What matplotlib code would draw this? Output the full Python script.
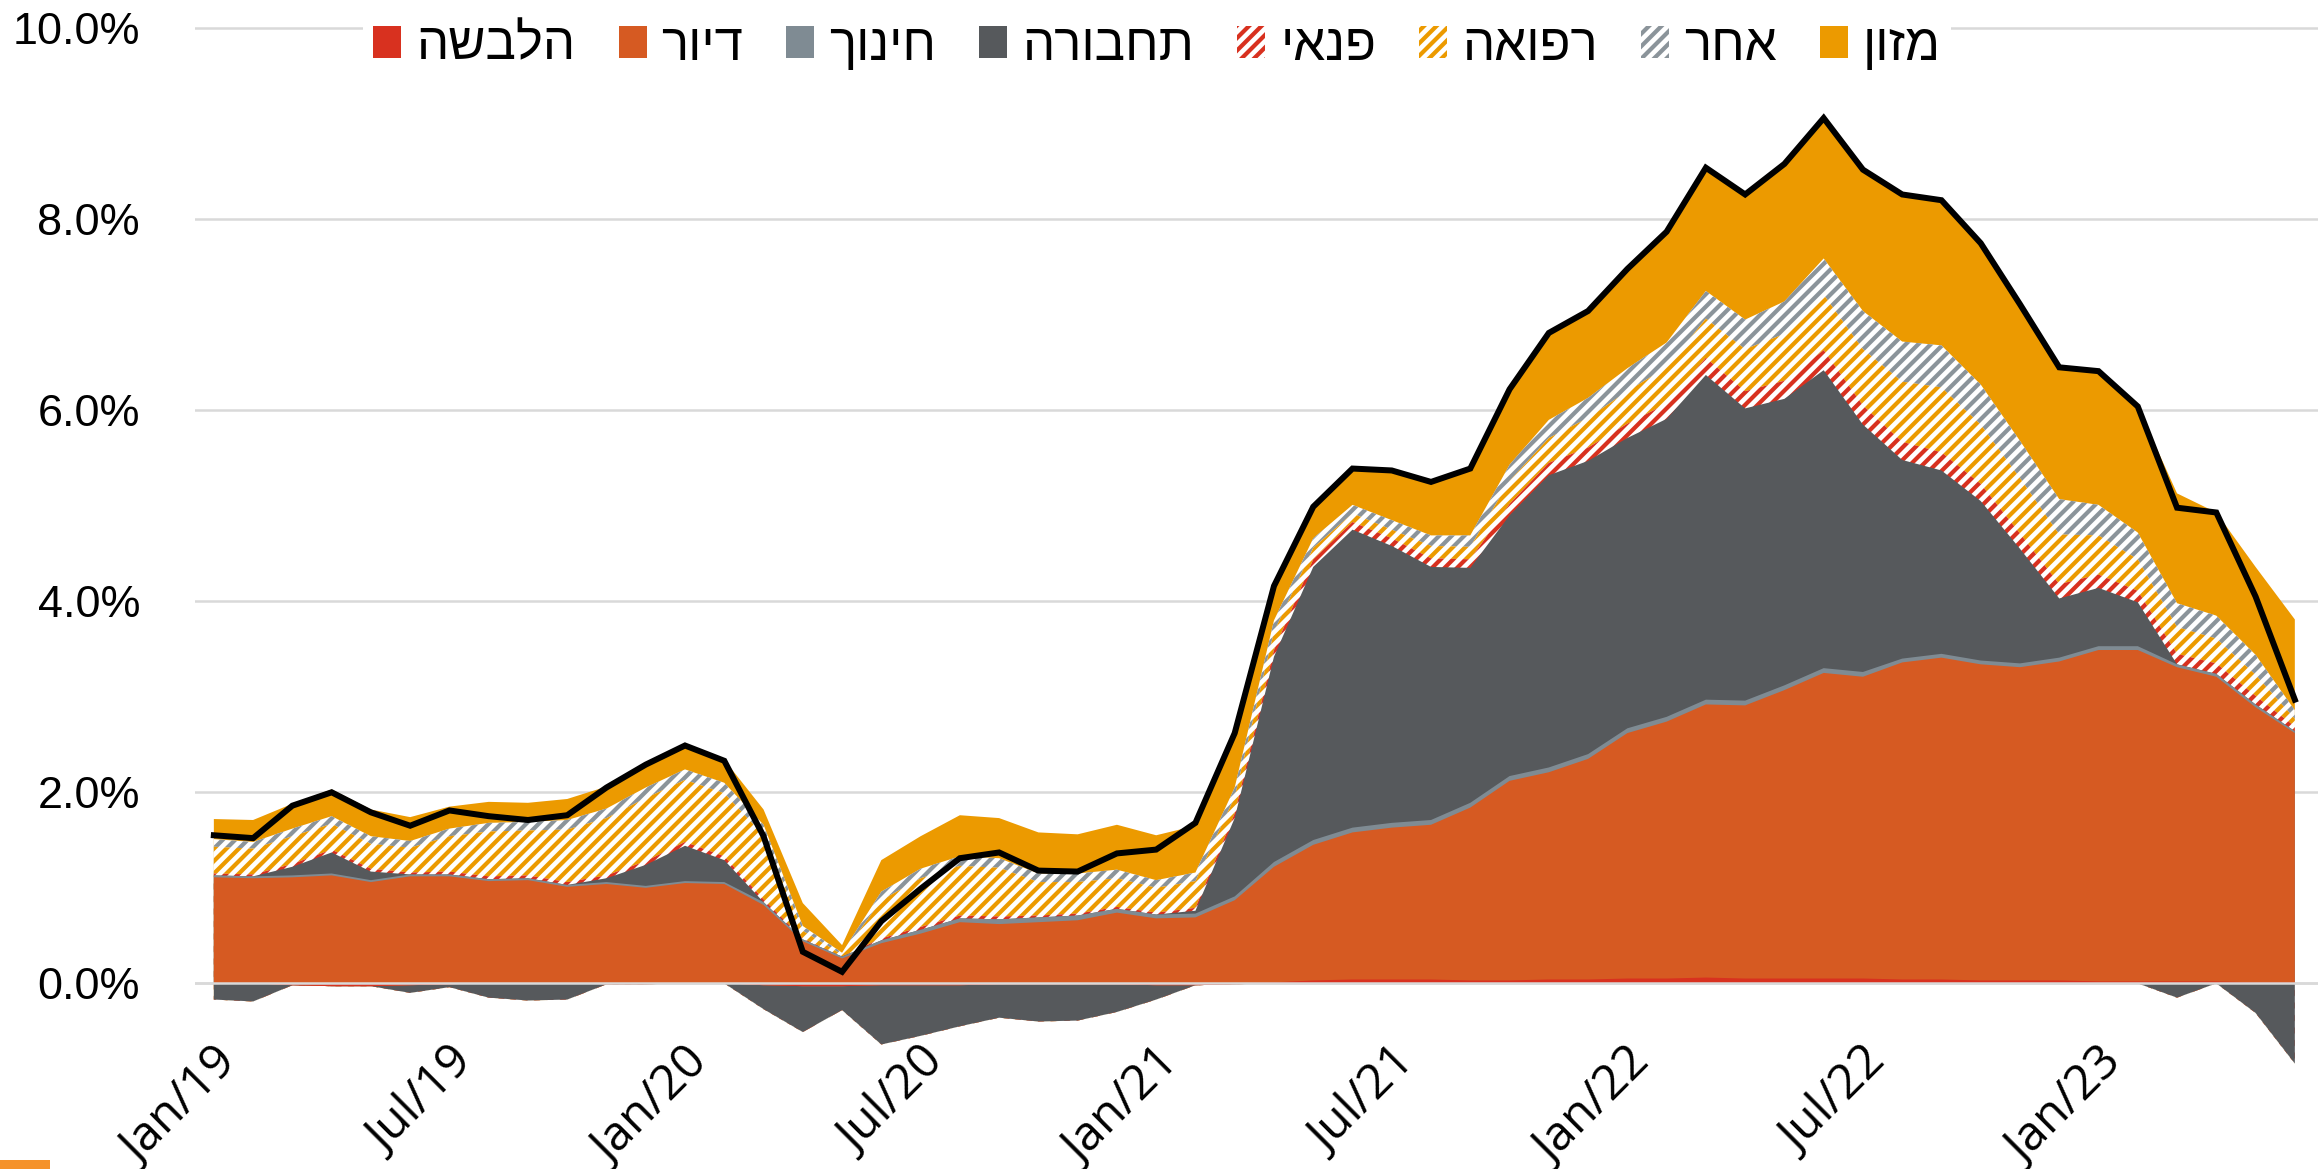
import numpy as np
import matplotlib
matplotlib.use('Agg')
import matplotlib.pyplot as plt
from matplotlib.patches import Patch, Rectangle

# output size and dpi (dpi picked so the hatch spacing looks like the excel pattern)
W, H = 2318, 1169
DPI = 150


def px(v):
    # pixels -> points
    return v * 72.0 / DPI


# monthly, Jan/19 .. Jun/23, contribution to yearly inflation (%)
tick_pos = [0, 6, 12, 18, 24, 30, 36, 42, 48]
tick_labels = ['Jan/19', 'Jul/19', 'Jan/20', 'Jul/20', 'Jan/21',
               'Jul/21', 'Jan/22', 'Jul/22', 'Jan/23']

total = [1.55, 1.52, 1.86, 2.00, 1.79, 1.65, 1.81, 1.75, 1.71, 1.76,
         2.05, 2.29, 2.49, 2.33, 1.54, 0.33, 0.12, 0.65, 0.99, 1.31,
         1.37, 1.18, 1.17, 1.36, 1.40, 1.68, 2.62, 4.16, 4.99, 5.39,
         5.37, 5.25, 5.39, 6.22, 6.81, 7.04, 7.48, 7.87, 8.54, 8.26,
         8.58, 9.06, 8.52, 8.26, 8.20, 7.75, 7.11, 6.45, 6.41, 6.04,
         4.98, 4.93, 4.05, 2.97]

clothing = [0, 0, -0.02, -0.03, -0.03, -0.02, -0.01, 0, 0, 0,
            -0.01, -0.01, 0, 0, -0.02, -0.03, -0.03, -0.02, -0.02, -0.02,
            -0.01, -0.01, -0.01, -0.01, -0.02, -0.02, -0.01, 0.01, 0.03, 0.04,
            0.04, 0.04, 0.03, 0.03, 0.04, 0.04, 0.05, 0.05, 0.06, 0.05,
            0.05, 0.05, 0.05, 0.04, 0.04, 0.03, 0.03, 0.03, 0.02, 0.02,
            0.02, 0.02, 0.01, 0.01]

housing = [1.11, 1.10, 1.11, 1.13, 1.06, 1.12, 1.12, 1.07, 1.08, 1.01,
           1.04, 1.00, 1.05, 1.04, 0.82, 0.44, 0.26, 0.42, 0.52, 0.64,
           0.62, 0.64, 0.66, 0.74, 0.68, 0.69, 0.87, 1.21, 1.42, 1.54,
           1.59, 1.62, 1.81, 2.09, 2.17, 2.31, 2.57, 2.69, 2.86, 2.86,
           3.02, 3.20, 3.16, 3.32, 3.37, 3.31, 3.28, 3.34, 3.47, 3.47,
           3.29, 3.19, 2.88, 2.61]

education = [0.02, 0.02, 0.02, 0.02, 0.02, 0.02, 0.02, 0.02, 0.02, 0.02,
             0.02, 0.02, 0.02, 0.02, 0.03, 0.02, 0.02, 0.03, 0.04, 0.04,
             0.05, 0.05, 0.05, 0.04, 0.04, 0.04, 0.04, 0.05, 0.05, 0.05,
             0.05, 0.05, 0.05, 0.05, 0.05, 0.05, 0.05, 0.05, 0.05, 0.05,
             0.05, 0.05, 0.05, 0.04, 0.04, 0.04, 0.04, 0.04, 0.04, 0.04,
             0.03, 0.03, 0.03, 0.02]

transport = [-0.17, -0.19, 0.09, 0.22, 0.09, -0.08, -0.03, -0.15, -0.18, -0.17,
             0.04, 0.22, 0.37, 0.23, -0.25, -0.48, -0.25, -0.62, -0.53, -0.43,
             -0.35, -0.39, -0.38, -0.29, -0.15, 0.03, 0.82, 2.15, 2.86, 3.12,
             2.90, 2.65, 2.46, 2.73, 3.06, 3.07, 3.04, 3.12, 3.40, 3.06,
             3.00, 3.12, 2.59, 2.08, 1.92, 1.67, 1.20, 0.62, 0.61, 0.46,
             -0.15, 0.00, -0.31, -0.84]

leisure = [0.02, 0.02, 0.03, 0.03, 0.03, 0.02, 0.03, 0.03, 0.03, 0.03,
           0.03, 0.04, 0.04, 0.04, 0.03, 0.01, 0.00, 0.02, 0.03, 0.03,
           0.03, 0.02, 0.02, 0.02, 0.02, 0.03, 0.05, 0.07, 0.08, 0.08,
           0.08, 0.09, 0.09, 0.12, 0.13, 0.14, 0.15, 0.16, 0.18, 0.18,
           0.19, 0.21, 0.20, 0.19, 0.19, 0.18, 0.16, 0.15, 0.14, 0.12,
           0.11, 0.11, 0.09, 0.05]

health = [0.28, 0.27, 0.29, 0.27, 0.26, 0.26, 0.37, 0.47, 0.47, 0.55,
          0.60, 0.66, 0.65, 0.66, 0.67, 0.08, 0.02, 0.40, 0.51, 0.52,
          0.51, 0.35, 0.33, 0.30, 0.26, 0.28, 0.17, 0.19, 0.12, 0.09,
          0.09, 0.13, 0.13, 0.24, 0.26, 0.31, 0.34, 0.38, 0.41, 0.44,
          0.49, 0.58, 0.59, 0.63, 0.68, 0.62, 0.58, 0.52, 0.41, 0.33,
          0.28, 0.26, 0.22, 0.08]

other = [0.08, 0.07, 0.08, 0.08, 0.08, 0.07, 0.08, 0.09, 0.09, 0.10,
         0.10, 0.11, 0.11, 0.11, 0.11, 0.05, 0.02, 0.09, 0.10, 0.10,
         0.10, 0.09, 0.09, 0.09, 0.08, 0.09, 0.10, 0.12, 0.10, 0.09,
         0.10, 0.11, 0.12, 0.17, 0.19, 0.21, 0.24, 0.26, 0.29, 0.31,
         0.34, 0.38, 0.40, 0.42, 0.44, 0.42, 0.39, 0.37, 0.32, 0.28,
         0.25, 0.24, 0.21, 0.09]

food = [0.21, 0.23, 0.26, 0.28, 0.28, 0.25, 0.23, 0.22, 0.20, 0.22,
        0.23, 0.24, 0.24, 0.24, 0.16, 0.24, 0.08, 0.33, 0.34, 0.43,
        0.42, 0.43, 0.41, 0.47, 0.47, 0.49, 0.58, 0.36, 0.33, 0.38,
        0.53, 0.56, 0.70, 0.78, 0.90, 0.91, 1.03, 1.16, 1.28, 1.31,
        1.44, 1.47, 1.48, 1.54, 1.53, 1.49, 1.43, 1.38, 1.40, 1.32,
        1.15, 1.08, 0.92, 0.95]

# stacking order bottom -> top: name, values, colour, hatch
series = [
    ('הלבשה', clothing, '#D8311F', None),
    ('דיור', housing, '#D65A22', None),
    ('חינוך', education, '#7F8B93', None),
    ('תחבורה', transport, '#56595C', None),
    ('פנאי', leisure, '#D8311F', '////'),
    ('רפואה', health, '#EC9A00', '////'),
    ('אחר', other, '#8B949A', '////'),
    ('מזון', food, '#EC9A00', None),
]

plt.rcParams['font.family'] = ['Open Sans', 'DejaVu Sans']
plt.rcParams['hatch.linewidth'] = px(4.2)

fig = plt.figure(figsize=(W / DPI, H / DPI), dpi=DPI)
y_lo, y_hi = -0.9, 10.05
ax_top, ax_bot = 983.3 - 95.5 * y_hi, 983.3 - 95.5 * y_lo
ax = fig.add_axes([195 / W, 1 - ax_bot / H, 1 - 195 / W, (ax_bot - ax_top) / H])

x = np.arange(len(total))

# positives and negatives stacked separately
cp = np.zeros(len(x))
cn = np.zeros(len(x))
tops = []
for name, vals, col, hatch in series:
    v = np.array(vals, dtype=float)
    cp = cp + np.clip(v, 0, None)
    cn = cn + np.clip(v, None, 0)
    tops.append((cp.copy(), cn.copy()))

# paint from the top series down, each from zero, so no seams show
for (name, vals, col, hatch), (tp, tn) in reversed(list(zip(series, tops))):
    if hatch:
        kw = dict(facecolor='white', edgecolor=col, hatch=hatch, linewidth=0)
    else:
        kw = dict(facecolor=col, edgecolor='none', linewidth=0)
    ax.fill_between(x, 0, tp, zorder=2, **kw)
    ax.fill_between(x, 0, tn, zorder=2, **kw)

ax.axhline(0, color='#D9D9D9', lw=px(2.5), zorder=3)
ax.plot(x, total, color='black', lw=px(6), zorder=4, solid_joinstyle='miter')

ax.set_xlim(-0.48, 53.59)
ax.set_ylim(y_lo, y_hi)
ax.set_yticks([0, 2, 4, 6, 8, 10])
ax.set_yticklabels(['%.1f%%' % t for t in [0, 2, 4, 6, 8, 10]],
                   family=['Liberation Sans Narrow', 'Liberation Sans', 'DejaVu Sans'],
                   fontsize=px(45))
ax.set_xticks(tick_pos)
ax.set_xticklabels(tick_labels, rotation=45, ha='right', rotation_mode='anchor',
                   fontsize=px(48))
ax.tick_params(axis='both', length=0)
ax.tick_params(axis='y', pad=px(55))
ax.tick_params(axis='x', pad=-px(30))
ax.yaxis.grid(True, color='#D9D9D9', lw=px(2.5))
ax.set_axisbelow(True)
for sp in ax.spines.values():
    sp.set_visible(False)

# legend, hebrew strings reversed since matplotlib has no bidi
handles = []
for name, vals, col, hatch in series:
    if hatch:
        handles.append(Patch(facecolor='white', edgecolor=col, hatch=hatch, lw=0))
    else:
        handles.append(Patch(facecolor=col, edgecolor='none', lw=0))
em = 51
leg = fig.legend(handles, [s[0][::-1] for s in series], loc='center',
                 bbox_to_anchor=(1157 / W, 1 - 46 / H), ncol=8,
                 prop={'family': ['Liberation Sans Narrow', 'Liberation Sans', 'DejaVu Sans'],
                       'size': px(em)},
                 handlelength=28 / em, handleheight=30 / em, handletextpad=15 / em,
                 columnspacing=43 / em, borderpad=0.2, frameon=True,
                 fancybox=False, edgecolor='none', facecolor='white', framealpha=1)

# little orange stub cut off at bottom left
fig.patches.append(Rectangle((0, 0), 50 / W, 9 / H, transform=fig.transFigure,
                             facecolor='#F5922A', edgecolor='none'))

fig.savefig('out.png', dpi=DPI, facecolor='white')
